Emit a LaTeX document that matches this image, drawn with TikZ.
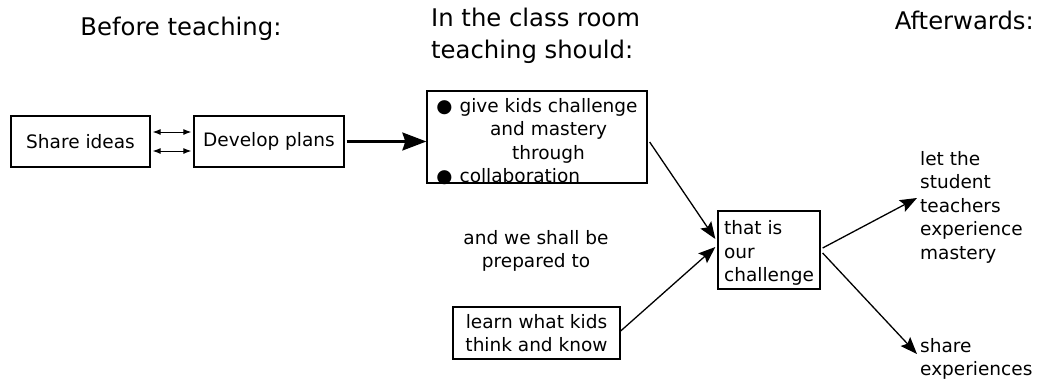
\documentclass[tikz,border=0pt]{standalone}
\usepackage{fontspec}
\setmainfont{DejaVu Sans}
\usetikzlibrary{arrows.meta,calc}
\begin{document}
\begin{tikzpicture}[x=1pt,y=-1pt,
  box/.style={draw,line width=1.3pt,inner sep=0pt,align=center,font=\fontsize{18.5}{23.5}\selectfont},
  txt/.style={inner sep=0pt,font=\fontsize{18.5}{23.5}\selectfont},
  ttl/.style={inner sep=0pt,font=\fontsize{24.3}{32}\selectfont},
  small/.style={line width=1pt,{Latex[length=8,width=6]}-{Latex[length=8,width=6]}},
  bigarrow/.style={line width=2.3pt,-{Stealth[length=24,width=18,inset=3]}},
  arr/.style={line width=1.3pt,-{Stealth[length=17,width=13,inset=3]}}]
\useasboundingbox (0,0) rectangle (1037,380);
% titles
\node[ttl] (t1) at (181,29) {Before teaching:};
\node[ttl,align=left,anchor=west] (t2) at (431,36) {In the class room\\teaching should:};
\node[ttl,anchor=east] (t3) at (1034,20) {Afterwards:};
% boxes
\node[box,minimum width=139,minimum height=51] (share) at (80.5,141.5) {Share ideas};
\node[box,minimum width=150,minimum height=51] (develop) at (269,141.5) {Develop plans};
\node[box,minimum width=220,minimum height=92] (bigbox) at (537,137) {};
\node[txt,anchor=center] (bigtext) at (537,143)
  {\begin{tabular}{@{}l@{\hspace{7pt}}c@{}}
   ●&give kids challenge\\
    &and mastery\\
    &through\\
   ●&\multicolumn{1}{@{}l@{}}{collaboration}
   \end{tabular}};
\node[box,minimum width=102,minimum height=78,align=left] (chal) at (769,250) {\rule{0pt}{20pt}that is\\our\\challenge};
\node[box,minimum width=167,minimum height=52] (learn) at (536.5,333) {learn what kids\\think and know};
% free texts
\node[txt,align=center] (prep) at (536,251) {and we shall be\\prepared to};
\node[txt,align=left,anchor=west] (let) at (920,207) {let the\\student\\teachers\\experience\\mastery};
\node[txt,align=left,anchor=west] (sharex) at (920,359) {share\\experiences};
% connectors
\draw[small] ($(share.east)+(2,9.5)$) -- ($(develop.west)+(-2,9.5)$);
\draw[small] ($(share.east)+(2,-9.5)$) -- ($(develop.west)+(-2,-9.5)$);
\draw[bigarrow] ($(develop.east)+(2,0)$) -- ($(develop.east -| bigbox.west)$);
\draw[arr] ($(bigbox.east)+(2,5)$) -- ($(chal.west)+(-2,-11)$);
\draw[arr] ($(learn.east)+(0,-2)$) -- ($(chal.west)+(-2,-3)$);
\coordinate (upend) at ($(let.west)+(-3,-9)$);
\coordinate (downend) at ($(sharex.west)+(-3,-5)$);
\draw[arr] ($(chal.east)+(2,-2)$) -- (upend);
\draw[arr] ($(chal.east)+(2,3)$) -- (downend);
\end{tikzpicture}
\end{document}
